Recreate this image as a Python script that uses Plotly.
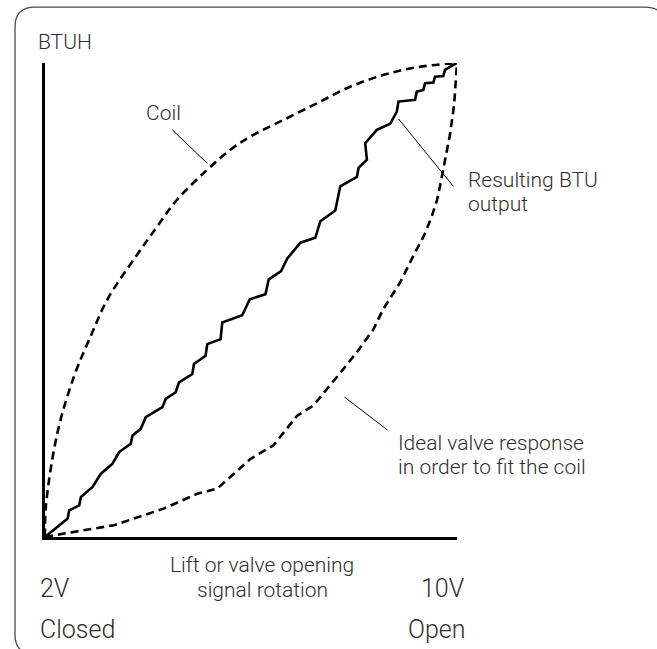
import plotly.graph_objects as go

# ---------------- data (x = % lift / signal, y = % BTUH) ----------------
coil_x = [0, 0.24, 3.07, 7.09, 11.1, 15.2, 22.4, 27.3, 32.1, 39.4, 45.0, 49.9, 57.9, 66.0, 74.1, 82.2, 90.2, 100]
coil_y = [0, 6.7, 22.2, 34.0, 42.4, 50.2, 59.6, 65.6, 71.2, 77.5, 81.7, 84.5, 88.0, 91.5, 95.0, 97.5, 99.1, 100]

ideal_x = [0, 4.67, 16.7, 28.8, 37.0, 41.8, 46.7, 49.9, 55.4, 61.2, 65.1, 69.2, 72.4, 75.7, 79.7, 82.1,
           86.2, 89.8, 92.0, 93.7, 95.2, 96.1, 97.3, 98.3, 99.3, 99.9, 100]
ideal_y = [0, 0.74, 2.48, 5.99, 9.15, 10.2, 14.0, 16.5, 19.3, 25.6, 27.7, 31.9, 35.4, 39.0, 43.8, 48.1,
           53.7, 60.0, 63.6, 67.2, 71.2, 75.0, 80.2, 84.9, 91.2, 97.5, 100]

result_x = [0, 5.50, 5.88, 8.31, 8.72, 11.55, 13.56, 16.39, 17.99, 20.82, 21.23, 23.24, 24.46, 28.50,
            29.30, 31.72, 32.52, 35.76, 36.15, 38.98, 39.39, 42.62, 43.03, 47.87, 49.71, 53.51, 54.31,
            57.31, 58.77, 61.99, 65.62, 66.83, 70.46, 71.26, 71.67, 75.71, 76.10, 78.13, 77.72, 80.56,
            83.78, 85.40, 85.79, 89.83, 90.24, 91.84, 92.25, 94.26, 94.67, 96.68, 97.09, 99.10, 100]
result_y = [0, 3.89, 5.64, 6.69, 8.45, 10.56, 13.35, 15.46, 17.92, 19.66, 21.41, 22.82, 25.28, 27.38,
            29.13, 30.54, 32.64, 34.38, 36.49, 38.23, 40.69, 41.75, 45.26, 46.79, 50.16, 51.21, 54.36,
            56.11, 58.72, 62.08, 63.13, 66.62, 68.87, 71.88, 73.99, 75.96, 77.86, 79.60, 83.11, 85.91,
            87.17, 89.76, 91.86, 92.22, 93.96, 94.32, 95.73, 95.86, 97.12, 97.27, 98.53, 99.58, 100]

# leader lines (start x, start y, end x, end y) in data units
leader_coil = [30.9, 85.9, 39.4, 78.8]
leader_result = [85.8, 88.2, 99.1, 74.0]
leader_ideal = [72.7, 29.5, 83.1, 22.6]

y_title = "BTUH"
x_title_lines = ["Lift or valve opening", "signal rotation"]
x_low_labels = ["2V", "Closed"]
x_high_labels = ["10V", "Open"]
coil_label = "Coil"
result_label_lines = ["Resulting BTU", "output"]
ideal_label_lines = ["Ideal valve response", "in order to fit the coil"]

# ---------------- layout geometry (pixels) ----------------
W_FIG, H_FIG = 657, 649
L, T, PW, PH = 45, 63, 412, 474.5
FONT = "Roboto, Liberation Sans, Arial, sans-serif"
TXT = "#2e2e2e"


def xp(px):
    return (px - L) / PW


def yp(py):
    return (T + PH - py) / PH


fig = go.Figure()
dash = "8px,5px"
fig.add_trace(go.Scatter(x=coil_x, y=coil_y, mode="lines", line=dict(color="black", width=2.6, dash=dash),
                         line_shape="spline", hoverinfo="skip"))
fig.add_trace(go.Scatter(x=ideal_x, y=ideal_y, mode="lines", line=dict(color="black", width=2.6, dash=dash),
                         hoverinfo="skip"))
fig.add_trace(go.Scatter(x=result_x, y=result_y, mode="lines", line=dict(color="black", width=2.6),
                         hoverinfo="skip"))

shapes = []
for ld in (leader_coil, leader_result, leader_ideal):
    shapes.append(dict(type="line", xref="x", yref="y", x0=ld[0], y0=ld[1], x1=ld[2], y1=ld[3],
                       line=dict(color="black", width=1)))

# rounded frame
bx0, by0, bx1, by1, r = 15, 7, 665, 655, 20
path = (f"M {xp(bx0 + r)},{yp(by0)} L {xp(bx1 - r)},{yp(by0)} "
        f"Q {xp(bx1)},{yp(by0)} {xp(bx1)},{yp(by0 + r)} L {xp(bx1)},{yp(by1 - r)} "
        f"Q {xp(bx1)},{yp(by1)} {xp(bx1 - r)},{yp(by1)} L {xp(bx0 + r)},{yp(by1)} "
        f"Q {xp(bx0)},{yp(by1)} {xp(bx0)},{yp(by1 - r)} L {xp(bx0)},{yp(by0 + r)} "
        f"Q {xp(bx0)},{yp(by0)} {xp(bx0 + r)},{yp(by0)} Z")
shapes.append(dict(type="path", xref="paper", yref="paper", path=path,
                   line=dict(color="#4a4a4a", width=1.3), layer="below"))

ann = []


def add_text(text, x, y, size=21, xanchor="left"):
    ann.append(dict(text=text, x=xp(x), y=yp(y), xref="paper", yref="paper", showarrow=False,
                    xanchor=xanchor, yanchor="middle",
                    font=dict(family=FONT, size=size, color=TXT, weight=300)))


add_text(y_title, 36, 42)
add_text(coil_label, 144, 113)
add_text(result_label_lines[0], 465.5, 180)
add_text(result_label_lines[1], 465.5, 204)
add_text(ideal_label_lines[0], 395.5, 443)
add_text(ideal_label_lines[1], 395.5, 467)
add_text(x_title_lines[0], 262, 566, xanchor="center")
add_text(x_title_lines[1], 262, 591, xanchor="center")
add_text(x_low_labels[0], 38, 589, size=25)
add_text(x_low_labels[1], 38, 630, size=25)
add_text(x_high_labels[0], 467, 589, size=25, xanchor="right")
add_text(x_high_labels[1], 467, 630, size=25, xanchor="right")

axis_common = dict(range=[0, 100], showgrid=False, zeroline=False, showticklabels=False, ticks="",
                   showline=True, linecolor="black", linewidth=2.5, fixedrange=True)

fig.update_layout(
    width=W_FIG, height=H_FIG,
    margin=dict(l=L, r=W_FIG - L - PW, t=T, b=H_FIG - T - PH, pad=0),
    paper_bgcolor="white", plot_bgcolor="white",
    showlegend=False,
    xaxis=axis_common, yaxis=axis_common,
    shapes=shapes, annotations=ann,
)

fig.write_html("out.html", config={"displayModeBar": False},
               post_script="document.body.style.margin='0px';document.body.style.overflow='hidden';")
